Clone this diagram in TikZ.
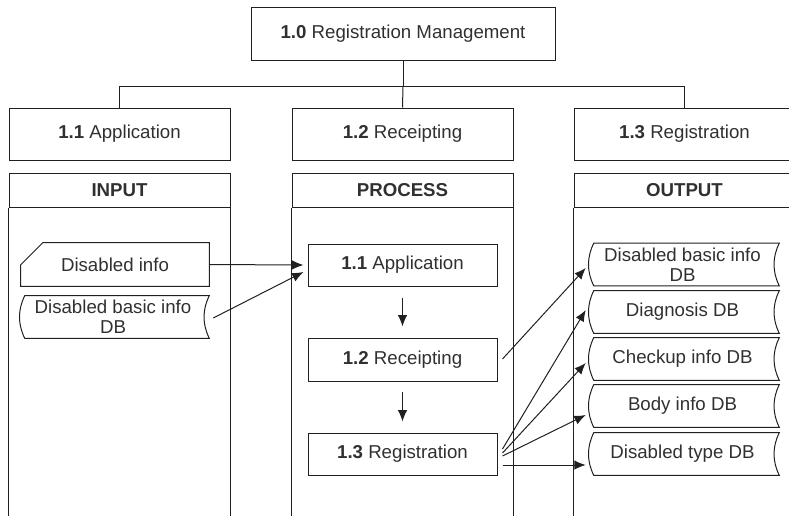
\documentclass[tikz,border=0pt]{standalone}
\usepackage{fontspec}
\setmainfont{Liberation Sans}
\usetikzlibrary{arrows.meta,calc}
\newdimen\px \px=0.75pt
\definecolor{txt}{HTML}{303030}
\definecolor{ln}{HTML}{202020}
\tikzset{
  every node/.style={font=\fontsize{14}{15}\selectfont, text=txt, align=center, inner sep=0pt},
  boxline/.style={draw=ln, line width=0.75pt},
  plainbox/.style={boxline, rectangle, minimum width=#1},
  hidden/.style={rectangle, minimum width=#1},
  conn/.style={draw=ln, line width=0.75pt},
  arr/.style={conn, -{Latex[length=8.5pt,width=7pt]}},
}
\newcommand\dbpath[1]{\draw[boxline] ($(#1.north west)+(4,0)$) .. controls ($(#1.north west)+(-3,14)$) and ($(#1.south west)+(-3,-14)$) .. ($(#1.south west)+(4,0)$) -- ($(#1.south east)+(4,0)$) .. controls ($(#1.south east)+(-3,-14)$) and ($(#1.north east)+(-3,14)$) .. ($(#1.north east)+(4,0)$) -- cycle;}
\begin{document}
\begin{tikzpicture}[x=0.75pt,y=-0.75pt]
\useasboundingbox (0,0) rectangle (789,515);
\clip (0,0) rectangle (789,515);
% top
\node[plainbox=304\px, minimum height=53\px] (top) at (403,33.5) {\textbf{1.0} Registration Management};
% second level
\node[plainbox=221\px, minimum height=52\px] (a1) at (119.5,134) {\textbf{1.1} Application};
\node[plainbox=221\px, minimum height=52\px] (a2) at (402.5,134) {\textbf{1.2} Receipting};
\node[plainbox=221\px, minimum height=52\px] (a3) at (684.5,134) {\textbf{1.3} Registration};
\draw[conn] (top.south) -- ++(0,26) coordinate (jn);
\draw[conn] (a1.north) |- (jn) -| (a3.north);
\draw[conn] (jn) -- (a2.north);
% headers
\node[plainbox=221\px, minimum height=34\px] (h1) at (119.5,190) {\textbf{INPUT}};
\node[plainbox=221\px, minimum height=34\px] (h2) at (402.5,190) {\textbf{PROCESS}};
\node[plainbox=221\px, minimum height=34\px] (h3) at (684.5,190) {\textbf{OUTPUT}};
\foreach \h in {h1,h2,h3}{
  \draw[boxline] (\h.south west) -- ++(0,330) -| (\h.south east);
}
% input
\node[hidden=188\px, minimum height=43\px] (in1) at (115,264.5) {Disabled info};
\draw[boxline] ($(in1.north west)+(22,0)$) -- (in1.north east) -- (in1.south east) -- (in1.south west) -- ($(in1.north west)+(0,22)$) -- cycle;
\node[hidden=184\px, minimum height=42\px] (in2) at (113,317) {Disabled basic info\\DB};
\dbpath{in2}
% process
\node[plainbox=189\px, minimum height=42\px] (p1) at (402.5,265) {\textbf{1.1} Application};
\node[plainbox=189\px, minimum height=43\px] (p2) at (402.5,359.5) {\textbf{1.2} Receipting};
\node[plainbox=189\px, minimum height=42\px] (p3) at (402.5,454) {\textbf{1.3} Registration};
\draw[arr] ($(p1.south)+(0,11)$) -- ($(p2.north)+(0,-11)$);
\draw[arr] ($(p2.south)+(0,10)$) -- ($(p3.north)+(0,-11)$);
% output
\node[hidden=185\px, minimum height=42\px] (o1) at (682.5,264.5) {Disabled basic info\\DB};
\node[hidden=185\px, minimum height=42\px] (o2) at (682.5,312) {Diagnosis DB};
\node[hidden=185\px, minimum height=42\px] (o3) at (682.5,359) {Checkup info DB};
\node[hidden=185\px, minimum height=42\px] (o4) at (682.5,406) {Body info DB};
\node[hidden=185\px, minimum height=42\px] (o5) at (682.5,454) {Disabled type DB};
\foreach \o in {o1,o2,o3,o4,o5}{\dbpath{\o}}
% connectors input -> process
\draw[arr] (in1.east) -- ($(p1.west)+(-4,0)$);
\draw[arr] ($(in2.east)+(8,1)$) -- ($(p1.west)+(-4,7)$);
% process -> output
\draw[arr] ($(p2.east)+(5,-0.5)$) -- ($(o1.west)+(-4,3.5)$);
\draw[arr] ($(p3.east)+(5,-5)$) -- ($(o2.west)+(-4,-2)$);
\draw[arr] ($(p3.east)+(5,-1)$) -- ($(o3.west)+(-4,4)$);
\draw[arr] ($(p3.east)+(5,2)$) -- ($(o4.west)+(-4,9)$);
\draw[arr] ($(p3.east)+(5,11)$) -- ($(o5.west)+(-4,11)$);
\end{tikzpicture}
\end{document}
